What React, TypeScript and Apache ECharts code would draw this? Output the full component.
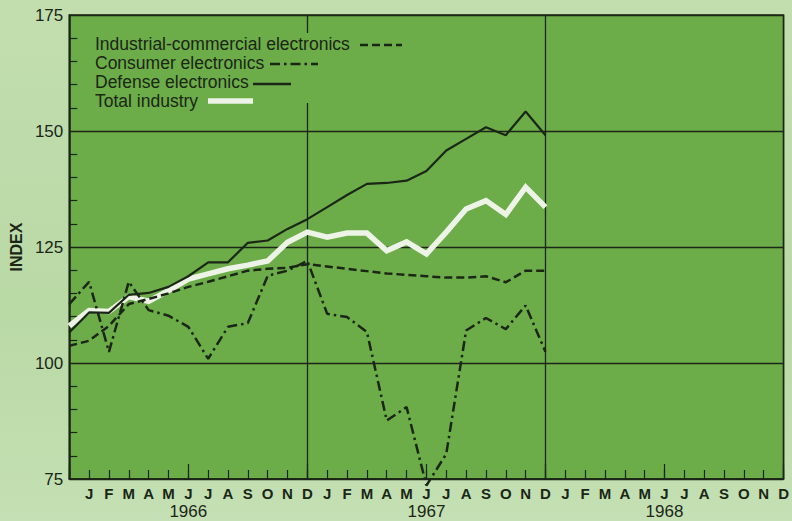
import { useEffect, useRef } from "react";
import * as echarts from "echarts";

const monthLetters = ["J", "F", "M", "A", "M", "J", "J", "A", "S", "O", "N", "D"];
const yearLabels: Record<number, string> = { 6: "1966", 18: "1967", 30: "1968" };
const legendNames = [
  "Industrial-commercial electronics",
  "Consumer electronics",
  "Defense electronics",
  "Total industry",
];

// index 0 = Dec 1965 (left edge), 12 = Dec 1966, 24 = Dec 1967
const industrial = [103.7, 104.8, 108.0, 112.7, 113.8, 115.0, 116.4, 117.5, 118.7, 119.9, 120.3, 120.5, 121.3, 120.8, 120.3, 119.8, 119.3, 119.0, 118.7, 118.4, 118.4, 118.7, 117.4, 119.9, 119.9];
const consumer = [112.7, 117.5, 102.4, 117.5, 111.4, 110.2, 107.8, 100.9, 107.8, 108.6, 118.8, 119.9, 122.0, 110.6, 109.9, 106.7, 87.6, 90.5, 73.6, 80.4, 107.0, 109.7, 107.3, 112.4, 102.4];
const defense = [106.6, 110.9, 110.8, 114.7, 115.1, 116.4, 118.7, 121.7, 121.7, 125.9, 126.4, 128.9, 131.0, 133.6, 136.2, 138.6, 138.8, 139.3, 141.4, 145.8, 148.3, 150.8, 149.1, 154.2, 149.1];
const total = [108.0, 111.3, 111.1, 114.3, 113.3, 115.6, 118.1, 119.2, 120.3, 121.1, 122.0, 126.0, 128.2, 127.1, 128.0, 128.0, 124.2, 126.1, 123.5, 128.2, 133.2, 135.0, 132.0, 137.9, 133.6];

const INK = "#1b2616";
const PLOT_GREEN = "#6cad49";
const WHITE_LINE = "#eef3e8";
const FONT = '"Liberation Sans", Arial, sans-serif';

const toPts = (arr: number[]) => arr.map((v, i) => [i, v]);

export default function App() {
  const ref = useRef<HTMLDivElement>(null);
  useEffect(() => {
    if (!ref.current) return;
    const chart = echarts.init(ref.current, undefined, { renderer: "svg" });
    const legendY = [44, 63, 82, 101];
    chart.setOption({
      animation: false,
      textStyle: { fontFamily: FONT },
      grid: {
        left: 63,
        right: 6,
        top: 15,
        bottom: 42,
        show: true,
        backgroundColor: PLOT_GREEN,
        borderColor: INK,
        borderWidth: 1.5,
      },
      xAxis: [
        {
          type: "value",
          min: 0,
          max: 36,
          interval: 1,
          position: "bottom",
          axisLine: { show: true, lineStyle: { color: INK, width: 1.5 } },
          axisTick: { show: true, inside: true, length: 9, lineStyle: { color: INK, width: 1.2 } },
          axisLabel: {
            margin: 7,
            fontSize: 15,
            fontWeight: "bold",
            color: INK,
            fontFamily: FONT,
            formatter: (v: number) => (v >= 1 ? monthLetters[(v - 1) % 12] : ""),
          },
          splitLine: { show: false },
        },
        {
          type: "value",
          min: 0,
          max: 36,
          interval: 6,
          position: "bottom",
          axisLine: { show: false },
          axisTick: { show: true, inside: true, length: 15, lineStyle: { color: INK, width: 1.2 } },
          axisLabel: {
            margin: 24,
            fontSize: 17,
            color: INK,
            fontFamily: FONT,
            formatter: (v: number) => yearLabels[v] || "",
          },
          splitLine: { show: false },
        },
        {
          type: "value",
          min: 0,
          max: 36,
          interval: 12,
          position: "bottom",
          axisLine: { show: false },
          axisTick: { show: false },
          axisLabel: { show: false },
          splitLine: { show: true, lineStyle: { color: INK, width: 1.3 } },
        },
      ],
      yAxis: {
        type: "value",
        min: 75,
        max: 175,
        interval: 25,
        name: "INDEX",
        nameLocation: "middle",
        nameRotate: 90,
        nameGap: 45,
        nameTextStyle: { fontSize: 16, fontWeight: "bold", color: INK, fontFamily: FONT },
        axisLine: { show: true, lineStyle: { color: INK, width: 1.5 } },
        axisTick: { show: false, inside: true },
        minorTick: { show: true, splitNumber: 5, length: 8, lineStyle: { color: INK, width: 1.2 } },
        axisLabel: { margin: 6, fontSize: 17, color: INK, fontFamily: FONT },
        splitLine: { show: true, lineStyle: { color: INK, width: 1.3 } },
      },
      series: [
        {
          name: legendNames[3],
          type: "line",
          data: toPts(total),
          symbol: "none",
          z: 2,
          lineStyle: { color: WHITE_LINE, width: 5.5, cap: "butt", join: "miter" },
        },
        {
          name: legendNames[0],
          type: "line",
          data: toPts(industrial),
          symbol: "none",
          z: 3,
          lineStyle: { color: INK, width: 2.5, type: [8, 4] },
        },
        {
          name: legendNames[1],
          type: "line",
          data: toPts(consumer),
          symbol: "none",
          clip: false,
          z: 3,
          lineStyle: { color: INK, width: 2.5, type: [10, 4, 2.5, 4] },
        },
        {
          name: legendNames[2],
          type: "line",
          data: toPts(defense),
          symbol: "none",
          z: 4,
          lineStyle: { color: INK, width: 2.2 },
        },
      ],
      graphic: [
        {
          type: "rect",
          z: 10,
          shape: { x: 90, y: 33, width: 314, height: 70 },
          style: { fill: PLOT_GREEN },
        },
        ...legendNames.map((name, i) => ({
          type: "text",
          z: 11,
          x: 95,
          y: legendY[i],
          style: {
            text: name,
            font: `17.5px ${FONT}`,
            fill: INK,
            textAlign: "left",
            textVerticalAlign: "middle",
          },
        })),
        {
          type: "line",
          z: 11,
          shape: { x1: 360, y1: 45, x2: 402, y2: 45 },
          style: { stroke: INK, lineWidth: 2.5, lineDash: [8, 4] },
        },
        {
          type: "line",
          z: 11,
          shape: { x1: 270, y1: 64, x2: 318, y2: 64 },
          style: { stroke: INK, lineWidth: 2.5, lineDash: [10, 4, 2.5, 4] },
        },
        {
          type: "line",
          z: 11,
          shape: { x1: 253, y1: 84, x2: 291, y2: 84 },
          style: { stroke: INK, lineWidth: 2.5 },
        },
        {
          type: "line",
          z: 11,
          shape: { x1: 208, y1: 101, x2: 253, y2: 101 },
          style: { stroke: WHITE_LINE, lineWidth: 5.5 },
        },
      ],
    });
    return () => chart.dispose();
  }, []);
  return (
    <div
      style={{
        position: "absolute",
        left: 0,
        top: 0,
        width: 792,
        height: 521,
        background: "linear-gradient(to bottom, #c2deaf, #b9d9a5 60%, #c4e0b4)",
      }}
    >
      <div ref={ref} style={{ width: 792, height: 521 }} />
    </div>
  );
}
